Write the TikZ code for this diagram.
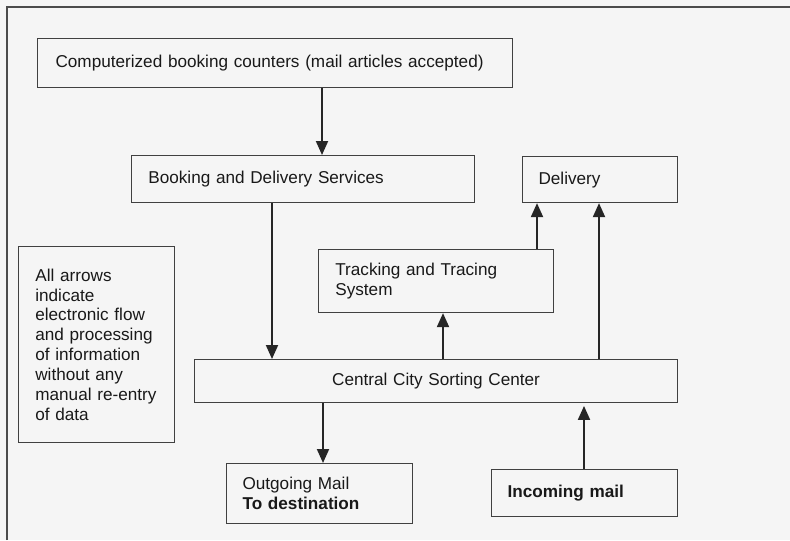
\documentclass[tikz,border=0pt]{standalone}
\usepackage{fontspec}
\setmainfont{Liberation Sans}
\usepackage{tikz}
\usetikzlibrary{arrows.meta, positioning, calc}

\begin{document}
\begin{tikzpicture}[
  font=\fontsize{12.2}{14.1}\selectfont,
  box/.style={draw=black!75, line width=0.8pt, anchor=north west,
    inner sep=0pt, align=left, text=black!90},
  arr/.style={line width=1.4pt, draw=black!85,
    -{Triangle[length=3.5mm, width=3mm]}}
]
  % page and frame
  \fill[black!4] (0,0) rectangle (19.75,-13.5);
  \useasboundingbox (0,0) rectangle (19.75,-13.5);
  \draw[black!70, line width=0.8pt] (0.175,-13.5) |- (19.75,-0.175);

  % boxes
  \node[box, minimum width=11.875cm, minimum height=1.225cm, text width=11.875cm]
    (counters) at (0.925,-0.95) {\hspace*{0.45cm}Computerized booking counters (mail articles accepted)};
  \node[box, minimum width=8.575cm, minimum height=1.175cm, text width=8.575cm]
    (booking) at (3.275,-3.875) {\hspace*{0.42cm}Booking and Delivery Services\\[2pt]};
  \node[box, minimum width=3.875cm, minimum height=1.15cm, text width=3.875cm]
    (delivery) at (13.05,-3.9) {\hspace*{0.4cm}Delivery\\[2pt]};
  \node[box, minimum width=5.875cm, minimum height=1.575cm, text width=5.875cm]
    (tracking) at (7.95,-6.225) {\hspace*{0.42cm}Tracking and Tracing\\\hspace*{0.42cm}System};
  \node[box, minimum width=12.075cm, minimum height=1.075cm, align=center, text width=12.075cm]
    (central) at (4.85,-8.975) {Central City Sorting Center};
  \node[box, minimum width=4.65cm, minimum height=1.5cm, text width=4.65cm]
    (outgoing) at (5.65,-11.575) {\hspace*{0.4cm}Outgoing Mail\\\hspace*{0.4cm}\textbf{To destination}};
  \node[box, minimum width=4.65cm, minimum height=1.175cm, text width=4.65cm]
    (incoming) at (12.275,-11.725) {\hspace*{0.4cm}\textbf{Incoming mail}};
  \node[box, minimum width=3.9cm, minimum height=4.9cm, text width=3.9cm]
    (note) at (0.45,-6.15) {\hspace*{0.42cm}All arrows\\\hspace*{0.42cm}indicate\\
    \hspace*{0.42cm}electronic flow\\\hspace*{0.42cm}and processing\\
    \hspace*{0.42cm}of information\\\hspace*{0.42cm}without any\\
    \hspace*{0.42cm}manual re-entry\\\hspace*{0.42cm}of data\\[0.9cm]};

  % arrow columns
  \coordinate (colA) at (8.05,0);
  \coordinate (colB) at (6.8,0);
  \coordinate (colC) at (11.075,0);
  \coordinate (colD) at (13.425,0);
  \coordinate (colE) at (14.975,0);
  \coordinate (colF) at (8.075,0);
  \coordinate (colG) at (14.6,0);

  % arrows
  \draw[arr] (counters.south -| colA) -- (booking.north -| colA);
  \draw[arr] (booking.south -| colB) -- (central.north -| colB);
  \draw[arr] (central.north -| colC) -- (tracking.south -| colC);
  \draw[arr] (tracking.north -| colD) -- (delivery.south -| colD);
  \draw[arr] (central.north -| colE) -- (delivery.south -| colE);
  \draw[arr] (central.south -| colF) -- (outgoing.north -| colF);
  \draw[arr, shorten >=2pt] (incoming.north -| colG) -- (central.south -| colG);
\end{tikzpicture}
\end{document}
